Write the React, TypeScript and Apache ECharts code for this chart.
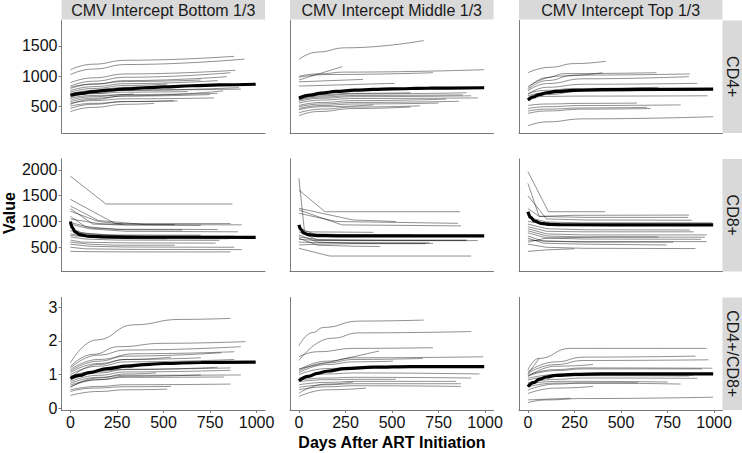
import React, { useEffect, useRef } from "react";
import * as echarts from "echarts";

type Pt = [number, number];

// ---- tick labels ----
const xTicks = [0, 250, 500, 750, 1000];
const yTicksCD4 = [500, 1000, 1500];
const yTicksCD8 = [500, 1000, 1500, 2000];
const yTicksRatio = [0, 1, 2, 3];

const colLabels = ["CMV Intercept Bottom 1/3", "CMV Intercept Middle 1/3", "CMV Intercept Top 1/3"];
const rowLabels = ["CD4+", "CD8+", "CD4+/CD8+"];

// ---- CD4+ ----
const cd4Bottom: Pt[][] = [
  [[0, 1110], [120, 1200], [300, 1265], [880, 1330]],
  [[0, 1030], [120, 1120], [300, 1195], [935, 1285]],
  [[0, 895], [120, 975], [300, 1040], [885, 1100]],
  [[0, 840], [120, 920], [300, 985], [860, 1060]],
  [[0, 800], [120, 870], [300, 930], [840, 995]],
  [[0, 765], [120, 830], [300, 880], [790, 930]],
  [[0, 820], [120, 875], [300, 915], [700, 940]],
  [[0, 740], [120, 800], [300, 850], [520, 875]],
  [[0, 720], [120, 755], [300, 775], [915, 790]],
  [[0, 655], [120, 720], [300, 770], [905, 815]],
  [[0, 680], [120, 715], [300, 740], [630, 750]],
  [[0, 610], [120, 665], [300, 700], [790, 720]],
  [[0, 640], [120, 685], [340, 710]],
  [[0, 555], [120, 600], [300, 630], [770, 645]],
  [[0, 510], [120, 555], [300, 585], [575, 595]],
  [[0, 470], [120, 540], [300, 585], [555, 600]],
  [[0, 420], [120, 490], [300, 540], [450, 555]],
  [[0, 580], [120, 640], [300, 675], [750, 700]],
  [[0, 700], [120, 770], [300, 820], [600, 845]],
  [[0, 540], [120, 620], [300, 680], [820, 760]],
];
const cd4BottomMean: Pt[] = [[0, 690], [60, 720], [120, 748], [200, 772], [300, 795], [400, 812], [500, 828], [650, 845], [800, 860], [995, 870]];

const cd4Middle: Pt[][] = [
  [[0, 1280], [100, 1400], [250, 1470], [670, 1590]],
  [[0, 1000], [100, 1040], [250, 1070], [995, 1110]],
  [[0, 940], [233, 1160]],
  [[0, 985], [150, 1030], [720, 1060]],
  [[0, 910], [344, 950]],
  [[0, 840], [514, 885]],
  [[0, 610], [120, 660], [300, 685], [880, 695]],
  [[0, 590], [120, 640], [300, 665], [925, 680]],
  [[0, 560], [120, 610], [300, 635], [960, 645]],
  [[0, 500], [120, 545], [300, 570], [860, 590]],
  [[0, 470], [120, 520], [300, 545], [750, 560]],
  [[0, 400], [120, 460], [300, 495], [650, 515]],
  [[0, 350], [100, 420], [300, 470], [600, 495]],
  [[0, 620], [120, 680], [300, 710], [900, 730]],
  [[0, 665], [120, 700], [300, 720], [600, 730]],
  [[0, 450], [120, 500], [400, 530]],
  [[0, 520], [120, 570], [300, 600], [790, 625]],
];
const cd4MiddleMean: Pt[] = [[0, 640], [60, 690], [120, 725], [200, 752], [300, 772], [400, 785], [500, 795], [700, 805], [995, 812]];

const cd4Top: Pt[][] = [
  [[0, 1060], [120, 1150], [250, 1210], [420, 1250]],
  [[0, 800], [100, 980], [200, 1045], [690, 1060]],
  [[0, 780], [100, 930], [250, 1020], [870, 1040]],
  [[0, 830], [165, 1005], [400, 1060]],
  [[0, 760], [100, 880], [300, 960], [865, 995]],
  [[0, 700], [100, 820], [300, 870], [910, 885]],
  [[0, 640], [100, 670], [300, 675], [965, 680]],
  [[0, 520], [100, 545], [300, 555], [585, 560]],
  [[0, 470], [100, 500], [300, 520], [820, 530]],
  [[0, 430], [100, 460], [300, 480], [640, 490]],
  [[0, 185], [100, 250], [300, 300], [995, 335]],
  [[0, 390], [100, 430], [300, 460], [660, 470]],
  [[0, 680], [100, 730], [300, 770], [750, 790]],
  [[0, 600], [100, 700], [300, 760], [950, 775]],
  [[0, 720], [100, 770], [250, 800], [700, 820]],
  [[0, 650], [80, 720], [300, 760], [500, 770]],
];
const cd4TopMean: Pt[] = [[0, 610], [30, 660], [60, 700], [100, 730], [150, 752], [250, 770], [400, 780], [600, 786], [995, 790]];

// ---- CD8+ ----
const cd8Bottom: Pt[][] = [
  [[0, 1880], [190, 1340], [870, 1340]],
  [[0, 1430], [240, 960], [860, 960]],
  [[0, 1300], [150, 1020], [400, 940], [920, 935]],
  [[0, 1250], [120, 950], [300, 930], [700, 925]],
  [[0, 1200], [150, 1000], [280, 950]],
  [[0, 1100], [80, 900], [250, 850], [790, 845]],
  [[0, 950], [100, 860], [300, 810], [900, 800]],
  [[0, 880], [60, 780], [200, 740], [700, 735]],
  [[0, 820], [100, 760], [300, 720], [880, 715]],
  [[0, 760], [100, 700], [300, 670], [850, 665]],
  [[0, 700], [80, 660], [250, 640], [800, 635]],
  [[0, 640], [60, 600], [300, 585], [780, 580]],
  [[0, 600], [100, 560], [250, 540], [560, 540]],
  [[0, 560], [100, 520], [300, 505], [880, 500]],
  [[0, 500], [80, 470], [300, 460], [920, 455]],
  [[0, 420], [100, 415], [300, 410], [860, 410]],
  [[0, 980], [120, 870], [300, 840], [600, 835]],
  [[0, 730], [120, 690], [300, 670], [520, 665]],
  [[0, 1050], [150, 960], [300, 940], [560, 940]],
];
const cd8BottomMean: Pt[] = [[0, 1000], [10, 880], [25, 800], [50, 745], [100, 715], [200, 700], [400, 695], [995, 693]];

const cd8Middle: Pt[][] = [
  [[0, 1840], [30, 800], [400, 790]],
  [[0, 1610], [140, 1190], [865, 1190]],
  [[0, 1256], [290, 1030], [520, 1000]],
  [[0, 1224], [230, 935], [870, 915]],
  [[0, 1160], [200, 1000], [855, 965]],
  [[0, 800], [100, 640], [300, 630], [960, 630]],
  [[0, 740], [100, 600], [300, 580], [720, 575]],
  [[0, 675], [100, 540], [300, 520], [435, 515]],
  [[0, 545], [100, 560], [300, 570], [680, 570]],
  [[0, 480], [165, 330], [925, 330]],
  [[0, 655], [100, 630], [900, 630]],
  [[0, 700], [100, 650], [500, 640], [900, 640]],
  [[0, 600], [100, 590], [400, 585], [700, 585]],
  [[0, 870], [80, 760], [300, 740], [610, 740]],
];
const cd8MiddleMean: Pt[] = [[0, 935], [10, 850], [25, 780], [50, 745], [100, 728], [200, 722], [995, 720]];

const cd8Top: Pt[][] = [
  [[0, 1970], [110, 1190], [415, 1190]],
  [[0, 1740], [60, 1100], [300, 1080], [860, 1080]],
  [[0, 1500], [100, 1050], [300, 1030], [880, 1025]],
  [[0, 1250], [60, 1100], [250, 1120], [865, 1125]],
  [[0, 1080], [100, 990], [300, 975], [990, 975]],
  [[0, 950], [100, 860], [300, 840], [870, 835]],
  [[0, 900], [100, 810], [300, 800], [890, 800]],
  [[0, 860], [100, 760], [300, 740], [960, 740]],
  [[0, 820], [100, 720], [300, 700], [950, 695]],
  [[0, 780], [100, 680], [300, 660], [930, 655]],
  [[0, 720], [80, 620], [300, 610], [960, 610]],
  [[0, 680], [80, 580], [300, 560], [745, 545]],
  [[0, 640], [100, 620], [300, 600], [780, 600]],
  [[0, 560], [100, 500], [300, 480], [900, 475]],
  [[0, 420], [100, 450], [250, 470]],
  [[0, 1000], [100, 950], [400, 940], [850, 935]],
  [[0, 600], [100, 680], [400, 700], [700, 700]],
];
const cd8TopMean: Pt[] = [[0, 1190], [15, 1080], [35, 1010], [70, 965], [120, 945], [200, 937], [995, 933]];

// ---- CD4+/CD8+ ----
const ratioBottom: Pt[][] = [
  [[0, 1.35], [140, 2.03], [340, 2.48], [590, 2.64], [860, 2.67]],
  [[0, 1.24], [120, 1.6], [260, 1.83], [500, 1.93], [940, 1.98]],
  [[0, 1.2], [150, 1.58], [300, 1.73], [915, 1.83]],
  [[0, 1.15], [150, 1.45], [350, 1.62], [880, 1.68]],
  [[0, 1.1], [150, 1.4], [300, 1.55], [810, 1.65]],
  [[0, 1.06], [150, 1.33], [300, 1.45], [540, 1.52]],
  [[0, 1.0], [150, 1.25], [300, 1.38], [880, 1.45]],
  [[0, 0.96], [150, 1.1], [300, 1.16], [860, 1.2]],
  [[0, 0.84], [150, 1.05], [300, 1.15], [790, 1.22]],
  [[0, 0.79], [150, 0.98], [300, 1.08], [860, 1.13]],
  [[0, 0.74], [150, 0.92], [300, 0.98], [915, 0.99]],
  [[0, 0.69], [150, 0.85], [300, 0.92], [825, 0.93]],
  [[0, 0.64], [150, 0.85], [300, 0.95], [700, 0.99]],
  [[0, 0.55], [150, 0.65], [300, 0.7], [860, 0.72]],
  [[0, 0.5], [120, 0.6], [300, 0.64], [540, 0.65]],
  [[0, 0.38], [150, 0.5], [300, 0.55], [520, 0.57]],
  [[0, 0.62], [150, 0.9], [300, 1.02], [460, 1.05]],
  [[0, 0.9], [150, 1.3], [300, 1.45], [700, 1.5]],
];
const ratioBottomMean: Pt[] = [[0, 0.89], [50, 0.98], [100, 1.06], [200, 1.18], [300, 1.25], [400, 1.3], [500, 1.33], [700, 1.36], [995, 1.37]];

const ratioMiddle: Pt[][] = [
  [[0, 1.86], [75, 2.25], [130, 2.4], [325, 2.59], [670, 2.62]],
  [[0, 1.42], [175, 2.08], [325, 2.24], [925, 2.28]],
  [[0, 1.17], [430, 1.7]],
  [[0, 1.53], [100, 1.68], [300, 1.78], [720, 1.8]],
  [[0, 1.14], [150, 1.4], [300, 1.5], [990, 1.53]],
  [[0, 1.1], [150, 1.35], [300, 1.45], [665, 1.48]],
  [[0, 1.05], [150, 1.3], [300, 1.38], [505, 1.4]],
  [[0, 0.9], [150, 1.02], [300, 1.05], [970, 1.02]],
  [[0, 0.84], [150, 0.9], [300, 0.92], [925, 0.9]],
  [[0, 0.79], [150, 0.85], [300, 0.86], [520, 0.86]],
  [[0, 0.7], [150, 0.77], [300, 0.8], [845, 0.8]],
  [[0, 0.62], [150, 0.7], [300, 0.73], [870, 0.73]],
  [[0, 0.55], [150, 0.64], [300, 0.67], [870, 0.65]],
  [[0, 0.45], [150, 0.72], [290, 0.78]],
  [[0, 0.35], [150, 0.55], [360, 0.6]],
  [[0, 1.0], [150, 1.18], [300, 1.22], [610, 1.25]],
];
const ratioMiddleMean: Pt[] = [[0, 0.82], [50, 0.95], [100, 1.04], [150, 1.1], [250, 1.18], [400, 1.22], [600, 1.24], [995, 1.24]];

const ratioTop: Pt[][] = [
  [[0, 1.14], [57, 1.48], [228, 1.78], [960, 1.78]],
  [[0, 1.02], [60, 1.48]],
  [[0, 1.09], [150, 1.38], [300, 1.52], [900, 1.55]],
  [[0, 1.04], [150, 1.3], [300, 1.42], [970, 1.44]],
  [[0, 0.99], [150, 1.15], [300, 1.2], [990, 1.19]],
  [[0, 0.96], [150, 1.12], [300, 1.17], [935, 1.17]],
  [[0, 0.89], [150, 1.0], [300, 1.0], [890, 0.98]],
  [[0, 0.84], [150, 0.95], [300, 0.97], [865, 0.96]],
  [[0, 0.76], [150, 0.86], [300, 0.9], [910, 0.89]],
  [[0, 0.72], [150, 0.8], [300, 0.8], [750, 0.78]],
  [[0, 0.64], [150, 0.75], [300, 0.75], [820, 0.72]],
  [[0, 0.54], [150, 0.72], [300, 0.75], [590, 0.76]],
  [[0, 0.44], [150, 0.6], [350, 0.65]],
  [[0, 0.17], [100, 0.25], [300, 0.29], [995, 0.33]],
  [[0, 0.25], [230, 0.3]],
  [[0, 0.94], [150, 1.25], [350, 1.3]],
];
const ratioTopMean: Pt[] = [[0, 0.64], [30, 0.76], [60, 0.86], [100, 0.93], [150, 0.98], [250, 1.01], [400, 1.02], [995, 1.02]];

const panelLines: Pt[][][][] = [
  [cd4Bottom, cd4Middle, cd4Top],
  [cd8Bottom, cd8Middle, cd8Top],
  [ratioBottom, ratioMiddle, ratioTop],
];
const panelMeans: Pt[][][] = [
  [cd4BottomMean, cd4MiddleMean, cd4TopMean],
  [cd8BottomMean, cd8MiddleMean, cd8TopMean],
  [ratioBottomMean, ratioMiddleMean, ratioTopMean],
];
const yRanges: [number, number][] = [[67, 1920], [30, 2213], [-0.05, 3.29]];
const yTicks = [yTicksCD4, yTicksCD8, yTicksRatio];

const FONT = "'Liberation Sans', Arial, Helvetica, sans-serif";
const COL_LEFT = [61.5, 290, 519];
const ROW_TOP = [20.5, 159, 297.5];
const PW = 203.5;
const PH = 112.5;
const AXIS_COLOR = "#7a7a7a";
const STRIP_FILL = "#d9d9d9";

export default function App() {
  const ref = useRef<HTMLDivElement>(null);
  useEffect(() => {
    if (!ref.current) return;
    const chart = echarts.init(ref.current, undefined, { renderer: "svg" });
    const grid: any[] = [];
    const xAxis: any[] = [];
    const yAxis: any[] = [];
    const series: any[] = [];
    const graphic: any[] = [];
    const fmt = (v: number) => String(v);
    for (let r = 0; r < 3; r++) {
      for (let c = 0; c < 3; c++) {
        const gi = r * 3 + c;
        grid.push({ left: COL_LEFT[c], top: ROW_TOP[r], width: PW, height: PH, containLabel: false });
        xAxis.push({
          gridIndex: gi,
          type: "value",
          min: -48,
          max: 1045,
          axisLine: { show: true, onZero: false, lineStyle: { color: AXIS_COLOR, width: 1 } },
          axisTick: { show: r === 2, length: 3, customValues: xTicks, lineStyle: { color: AXIS_COLOR } },
          axisLabel: { show: r === 2, customValues: xTicks, formatter: fmt, fontSize: 16, color: "#111", margin: 4, fontFamily: FONT },
          splitLine: { show: false },
        });
        yAxis.push({
          gridIndex: gi,
          type: "value",
          min: yRanges[r][0],
          max: yRanges[r][1],
          axisLine: { show: true, onZero: false, lineStyle: { color: AXIS_COLOR, width: 1 } },
          axisTick: { show: c === 0, length: 3, customValues: yTicks[r], lineStyle: { color: AXIS_COLOR } },
          axisLabel: { show: c === 0, customValues: yTicks[r], formatter: fmt, fontSize: 16, color: "#111", margin: 4, fontFamily: FONT },
          splitLine: { show: false },
        });
        const smooth = r !== 1;
        panelLines[r][c].forEach((traj) => {
          series.push({
            type: "line",
            xAxisIndex: gi,
            yAxisIndex: gi,
            data: traj,
            showSymbol: false,
            symbol: "none",
            smooth: smooth ? 0.5 : false,
            smoothMonotone: "x",
            silent: true,
            lineStyle: { color: "rgba(0,0,0,0.55)", width: 0.8 },
          });
        });
        series.push({
          type: "line",
          xAxisIndex: gi,
          yAxisIndex: gi,
          data: panelMeans[r][c],
          showSymbol: false,
          symbol: "none",
          smooth: 0.4,
          smoothMonotone: "x",
          silent: true,
          z: 5,
          lineStyle: { color: "#000", width: 3.2 },
        });
      }
    }
    for (let c = 0; c < 3; c++) {
      graphic.push({
        type: "rect",
        shape: { x: COL_LEFT[c], y: 0, width: PW, height: 19.5 },
        style: { fill: STRIP_FILL },
        silent: true,
      });
      graphic.push({
        type: "text",
        x: COL_LEFT[c] + PW / 2,
        y: 10,
        style: { text: colLabels[c], fontSize: 16, fontFamily: FONT, fill: "#1a1a1a", align: "center", verticalAlign: "middle" },
        silent: true,
      });
    }
    for (let r = 0; r < 3; r++) {
      graphic.push({
        type: "rect",
        shape: { x: 722.5, y: ROW_TOP[r], width: 19.5, height: PH },
        style: { fill: STRIP_FILL },
        silent: true,
      });
      graphic.push({
        type: "text",
        x: 732.5,
        y: ROW_TOP[r] + PH / 2,
        rotation: -Math.PI / 2,
        style: { text: rowLabels[r], fontSize: 16, fontFamily: FONT, fill: "#1a1a1a", align: "center", verticalAlign: "middle" },
        silent: true,
      });
    }
    graphic.push({
      type: "text",
      x: 9,
      y: 213,
      rotation: Math.PI / 2,
      style: { text: "Value", fontSize: 16, fontWeight: "bold", fontFamily: FONT, fill: "#000", align: "center", verticalAlign: "middle" },
      silent: true,
    });
    graphic.push({
      type: "text",
      x: 392,
      y: 442,
      style: { text: "Days After ART Initiation", fontSize: 16, fontWeight: "bold", fontFamily: FONT, fill: "#000", align: "center", verticalAlign: "middle" },
      silent: true,
    });

    chart.setOption({
      animation: false,
      backgroundColor: "#fff",
      grid,
      xAxis,
      yAxis,
      series,
      graphic,
    });
    return () => chart.dispose();
  }, []);
  return <div ref={ref} style={{ position: "fixed", left: 0, top: 0, width: 742, height: 453 }} />;
}
